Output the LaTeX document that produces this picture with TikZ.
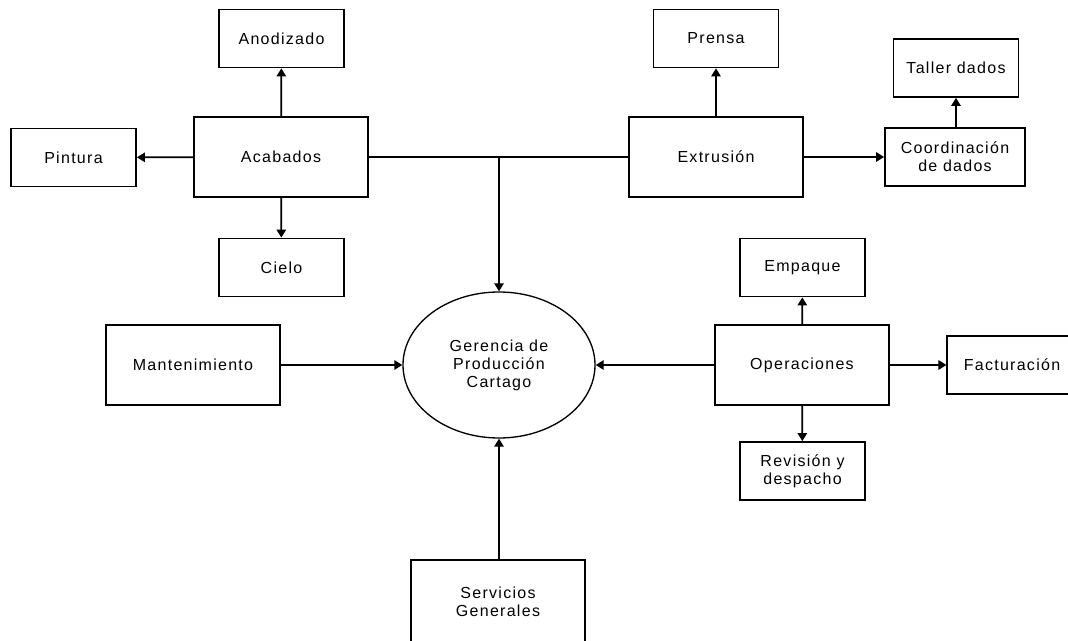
\documentclass[tikz,border=0pt]{standalone}
\usepackage{fontspec}
\newfontfamily\cajafont[LetterSpace=8]{Liberation Sans}
\usetikzlibrary{shapes.geometric,arrows.meta}

\begin{document}
\begin{tikzpicture}[x=0.75pt, y=-0.75pt,
    every node/.style={font=\cajafont\fontsize{12}{13.5}\selectfont, align=center, inner sep=2pt},
    caja/.style={draw, line width=1.3pt, minimum width=130.5pt, minimum height=60pt},
    cajita/.style={draw, line width=1.3pt, minimum width=93.75pt, minimum height=43.5pt},
    flecha/.style={draw, line width=1.3pt, -{Triangle[width=7pt,length=6pt]}}
]
\clip (0,0) rectangle (1068,641);

% bloque de acabados
\node[caja] (acabados) at (281,157) {Acabados};
\node[cajita] (anodizado) at (281.5,38.5) {Anodizado};
\node[cajita] (pintura) at (73.5,157.5) {Pintura};
\node[cajita] (cielo) at (281.5,267.5) {Cielo};

% bloque de extrusion
\node[caja] (extrusion) at (716,157) {Extrusión};
\node[cajita] (prensa) at (716,38.5) {Prensa};
\node[cajita, minimum width=105pt] (coordinacion) at (955,157) {Coordinación\\de dados};
\node[cajita] (taller) at (956,68) {Taller dados};

% centro
\node[ellipse, draw, line width=1pt, minimum width=144pt, minimum height=109.5pt, inner sep=0pt] (gerencia) at (499,365) {Gerencia de\\Producción\\Cartago};
\node[caja] (mantenimiento) at (193,365) {Mantenimiento};
\node[caja, minimum height=62.5pt] (servicios) at (498,602) {Servicios\\Generales};

% bloque de operaciones
\node[caja] (operaciones) at (802,365) {Operaciones};
\node[cajita] (empaque) at (802.5,267.5) {Empaque};
\node[cajita] (revision) at (802.5,471) {Revisión y\\despacho};
\node[cajita, minimum width=97pt] (facturacion) at (1012,365) {Facturación};

\coordinate (rama) at (499,157);

\draw[flecha] (acabados) -- (anodizado);
\draw[flecha] (acabados) -- (pintura);
\draw[flecha] (acabados) -- (cielo);
\draw[line width=1.3pt] (acabados) -- (extrusion);
\draw[flecha] (rama) -- (gerencia.north);
\draw[flecha] (extrusion) -- (prensa);
\draw[flecha] (extrusion) -- (coordinacion);
\draw[flecha] (coordinacion.north -| taller) -- (taller);
\draw[flecha] (mantenimiento) -- (gerencia);
\draw[flecha] (servicios.north -| gerencia.south) -- (gerencia.south);
\draw[flecha] (operaciones) -- (gerencia);
\draw[flecha] (operaciones) -- (empaque);
\draw[flecha] (operaciones) -- (revision);
\draw[flecha] (operaciones) -- (facturacion);
\end{tikzpicture}
\end{document}
